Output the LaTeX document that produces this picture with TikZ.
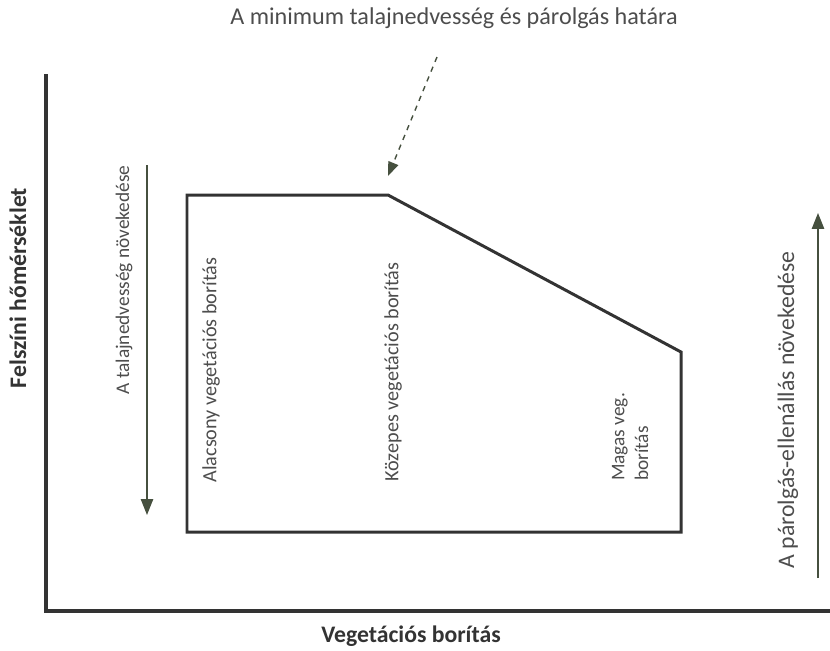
\documentclass[tikz,border=0pt]{standalone}
\usepackage{fontspec}
\setmainfont{Carlito}
\usepackage{tikz}
\usetikzlibrary{arrows.meta, positioning}
\definecolor{txtgray}{HTML}{4D4D4D}
\definecolor{linegray}{HTML}{333333}
\definecolor{arrgray}{HTML}{46503F}
\tikzset{
	>={Triangle[width=7pt,length=9pt]},
	axis/.style={line width=2.2pt, linegray, line cap=rect},
	zone/.style={line width=1.7pt, linegray, line join=miter},
	tag/.style={text=txtgray, inner sep=0pt, font=\fontsize{11.5}{13.5}\selectfont},
	axlabel/.style={text=linegray, inner sep=0pt, font=\fontsize{13.5}{16}\selectfont\bfseries},
	trend/.style={arrgray, line width=0.7pt, ->}
}

\begin{document}
\begin{tikzpicture}[x=0.02cm, y=-0.02cm]
	\useasboundingbox (0,0) rectangle (830,650);
	% axes
	\coordinate (ytop) at (46,76);
	\coordinate (orig) at (46,611);
	\coordinate (xend) at (830,611);
	\draw [axis] (ytop) -- (orig) -- (xend);
	\node [axlabel, rotate=90] (ylab) at (18,288) {Felszíni hőmérséklet};
	\node [axlabel] (xlab) at (411,636) {Vegetációs borítás};
	% zone of the three covers
	\draw [zone] (187,195) -- (388,195) coordinate (kink) -- (681,352) -- (681,532) -- (187,532) -- cycle;
	\node [tag, rotate=90] (low) at (211,370) {Alacsony vegetációs borítás};
	\node [tag, rotate=90] (mid) at (393,372) {Közepes vegetációs borítás};
	\node [tag, rotate=90, align=left, font=\fontsize{11}{13.5}\selectfont] (high) at (630,437) {Magas veg.\\borítás};
	% limit
	\node [tag, font=\fontsize{13.75}{16}\selectfont] (limit) at (454,18) {A minimum talajnedvesség és párolgás határa};
	\coordinate (limstart) at (437,57);
	\coordinate (limtip) at ([yshift=0.38cm]kink);
	\draw [arrgray, dashed, line width=0.8pt, -{Triangle[width=6pt,length=8pt]}] (limstart) -- (limtip);
	% trends
	\node [tag, rotate=90, font=\fontsize{11}{13}\selectfont] (moist) at (124,280) {A talajnedvesség növekedése};
	\coordinate (moisttop) at (147,165);
	\coordinate (moistbot) at (147,515);
	\draw [trend] (moisttop) -- (moistbot);
	\node [tag, rotate=90, font=\fontsize{13.5}{15}\selectfont] (resist) at (788,410) {A párolgás-ellenállás növekedése};
	\coordinate (resbot) at (818,578);
	\coordinate (restop) at (818,213);
	\draw [trend] (resbot) -- (restop);
\end{tikzpicture}
\end{document}
